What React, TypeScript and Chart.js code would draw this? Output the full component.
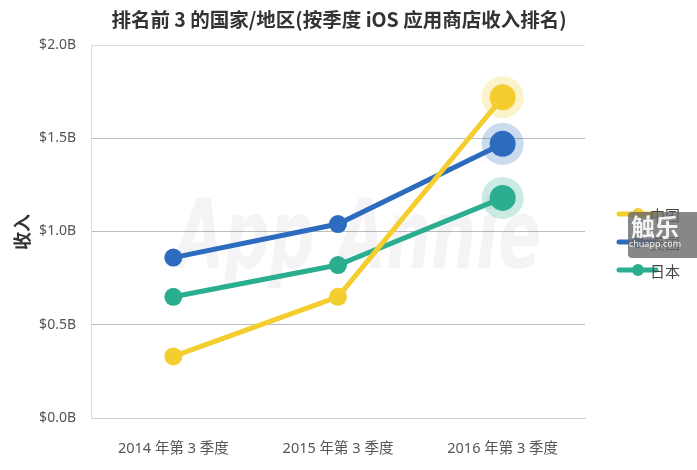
import React, { useEffect, useRef } from "react";
import { Chart, registerables } from "chart.js";
Chart.register(...registerables);

const categories = ["2014 年第 3 季度", "2015 年第 3 季度", "2016 年第 3 季度"];
const seriesNames = ["中国", "美国", "日本"];
const chinaRevenue = [0.33, 0.65, 1.72];
const usRevenue = [0.86, 1.04, 1.47];
const japanRevenue = [0.65, 0.82, 1.18];
const seriesColors = ["#F4CD2E", "#2D6BBE", "#2BAD8F"];
const haloColors = ["rgba(244,205,46,0.25)", "rgba(45,107,190,0.25)", "rgba(43,173,143,0.25)"];
const titleText = "排名前 3 的国家/地区(按季度 iOS 应用商店收入排名)";
const yTitle = "收入";

const FONT = "'Noto Sans', 'Noto Sans CJK SC', sans-serif";

const decor = {
  id: "decor",
  beforeDatasetsDraw(chart: any) {
    const ctx = chart.ctx;
    ctx.save();
    ctx.fillStyle = "rgba(40,40,90,0.05)";
    ctx.font = "italic bold 96px 'DejaVu Sans', sans-serif";
    ctx.textAlign = "center";
    ctx.textBaseline = "alphabetic";
    ctx.translate(358, 268);
    ctx.scale(0.66, 1);
    ctx.fillText("App Annie", 0, 0);
    ctx.restore();
    ctx.save();
    chart.data.datasets.forEach((ds: any, i: number) => {
      const meta = chart.getDatasetMeta(i);
      const pt = meta.data[meta.data.length - 1];
      ctx.beginPath();
      ctx.arc(pt.x, pt.y, 21, 0, Math.PI * 2);
      ctx.fillStyle = haloColors[i];
      ctx.fill();
    });
    ctx.restore();
  },
  afterDraw(chart: any) {
    const ctx = chart.ctx;
    ctx.save();
    ctx.fillStyle = "#333";
    ctx.font = "bold 19.5px 'Noto Sans CJK SC', sans-serif";
    ctx.textAlign = "center";
    ctx.textBaseline = "middle";
    ctx.fillText(titleText, 339, 20);

    ctx.save();
    ctx.translate(22, 232);
    ctx.rotate(-Math.PI / 2);
    ctx.font = "bold 18px 'Noto Sans CJK SC', sans-serif";
    ctx.fillStyle = "#333";
    ctx.fillText(yTitle, 0, 0);
    ctx.restore();

    const rows = [214, 242, 270];
    seriesNames.forEach((name, i) => {
      const y = rows[i];
      ctx.strokeStyle = seriesColors[i];
      ctx.lineWidth = 5;
      ctx.lineCap = "round";
      ctx.beginPath();
      ctx.moveTo(619, y);
      ctx.lineTo(656, y);
      ctx.stroke();
      ctx.beginPath();
      ctx.arc(638, y, 6, 0, Math.PI * 2);
      ctx.fillStyle = seriesColors[i];
      ctx.fill();
      ctx.fillStyle = "#444";
      ctx.font = "15px 'Noto Sans CJK SC', sans-serif";
      ctx.textAlign = "left";
      ctx.fillText(name, 650, y + 1);
    });

    // site watermark box
    ctx.fillStyle = "rgba(105,105,105,0.8)";
    ctx.beginPath();
    (ctx as any).roundRect(628, 212, 75, 46, 4);
    ctx.fill();
    ctx.fillStyle = "rgba(255,255,255,0.9)";
    ctx.textAlign = "center";
    ctx.font = "bold 24px 'Noto Sans CJK SC', sans-serif";
    ctx.fillText("触乐", 655, 227);
    ctx.font = "9px " + FONT;
    ctx.fillText("chuapp.com", 655, 244);
    ctx.restore();
  },
};

export default function App() {
  const ref = useRef<HTMLCanvasElement>(null);
  useEffect(() => {
    if (!ref.current) return;
    const values = [chinaRevenue, usRevenue, japanRevenue];
    const chart = new Chart(ref.current, {
      type: "line",
      data: {
        labels: categories,
        datasets: seriesNames.map((name, i) => ({
          label: name,
          data: values[i],
          borderColor: seriesColors[i],
          backgroundColor: seriesColors[i],
          pointBackgroundColor: seriesColors[i],
          borderWidth: 5,
          pointRadius: [9, 9, 13],
          pointHoverRadius: [9, 9, 13],
          pointBorderWidth: 0,
          tension: 0,
        })),
      },
      options: {
        animation: false,
        responsive: true,
        maintainAspectRatio: false,
        layout: { padding: { top: 45, right: 112, left: 0, bottom: 0 } },
        plugins: { legend: { display: false }, title: { display: false }, tooltip: { enabled: false } },
        scales: {
          x: {
            offset: true,
            grid: { display: false },
            border: { display: true, color: "#cfcfcf", width: 1 },
            ticks: { color: "#555", font: { size: 14.5, family: FONT }, padding: 14 },
            afterFit: (s: any) => { s.height = 52; },
          },
          y: {
            min: 0,
            max: 2,
            ticks: {
              stepSize: 0.5,
              color: "#555",
              font: { size: 14, family: FONT },
              padding: 15,
              callback: (v: any) => "$" + Number(v).toFixed(1) + "B",
            },
            grid: {
              drawTicks: false,
              color: (c: any) => (c.tick && (c.tick.value === 0 || c.tick.value === 2) ? "#dcdcdc" : "#bdbdbd"),
            },
            border: { display: true, color: "#dcdcdc" },
            afterFit: (s: any) => { s.width = 91; },
          },
        },
      },
      plugins: [decor],
    } as any);
    return () => chart.destroy();
  }, []);
  return (
    <div style={{ position: "absolute", left: 0, top: 0, width: 697, height: 470, background: "#fff" }}>
      <canvas ref={ref} />
    </div>
  );
}
